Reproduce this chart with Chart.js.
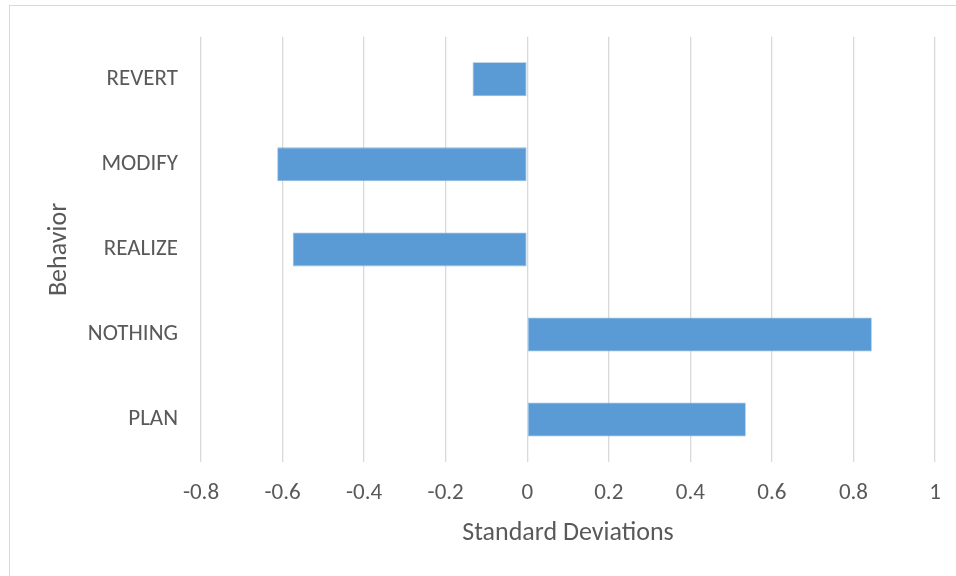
<!DOCTYPE html>
<html>
<head>
<meta charset="utf-8">
<script src="https://cdn.jsdelivr.net/npm/chart.js@4/dist/chart.umd.min.js"></script>
<style>
  html, body { margin: 0; padding: 0; background: #ffffff; }
  #wrap { width: 956px; height: 576px; }
</style>
</head>
<body>
<div id="wrap"><canvas id="chart" width="956" height="576"></canvas></div>
<script>
// Behaviour categories, listed top to bottom
const behaviors = ['REVERT', 'MODIFY', 'REALIZE', 'NOTHING', 'PLAN'];
// Deviation from the mean, in standard deviations
const deviations = [-0.134, -0.613, -0.575, 0.845, 0.536];
// Value axis range and step
const axisMin = -0.8;
const axisMax = 1;
const axisStep = 0.2;

const FONT = 'Calibri, Carlito, Lato, sans-serif';
const TEXT = '#595959';
const GRID = '#d9d9d9';

// Light frame around the chart area
const framePlugin = {
  id: 'frame',
  beforeDraw(chart) {
    const ctx = chart.ctx;
    ctx.save();
    ctx.fillStyle = '#ffffff';
    ctx.fillRect(0, 0, chart.width, chart.height);
    ctx.strokeStyle = GRID;
    ctx.lineWidth = 1;
    ctx.strokeRect(9.5, 5.5, 2000, 2000);
    ctx.restore();
  }
};

new Chart(document.getElementById('chart'), {
  type: 'bar',
  data: {
    labels: behaviors,
    datasets: [{
      data: deviations,
      backgroundColor: '#5b9bd5',
      borderColor: '#8fbbe3',
      borderWidth: 0.8,
      borderSkipped: false,
      barPercentage: 0.4,
      categoryPercentage: 1
    }]
  },
  options: {
    indexAxis: 'y',
    responsive: false,
    animation: false,
    devicePixelRatio: 1,
    layout: { padding: { top: 34, right: 21, bottom: 27, left: 44 } },
    plugins: {
      legend: { display: false },
      tooltip: { enabled: false }
    },
    scales: {
      x: {
        min: axisMin,
        max: axisMax,
        afterFit(scale) {
          scale.height = 87;
          scale.paddingRight = 0;
          scale.paddingLeft = 0;
        },
        afterBuildTicks(scale) {
          const t = [];
          for (let i = 0; i <= Math.round((axisMax - axisMin) / axisStep); i++) {
            t.push({ value: +(axisMin + i * axisStep).toFixed(1) });
          }
          scale.ticks = t;
        },
        grid: { color: GRID, lineWidth: 1.3, drawTicks: false },
        border: { display: false },
        ticks: {
          padding: 17,
          color: TEXT,
          font: { family: FONT, size: 23 },
          callback: (v) => String(+(+v).toFixed(1))
        },
        title: {
          display: true,
          text: 'Standard Deviations',
          color: TEXT,
          padding: 0,
          font: { family: FONT, size: 26 }
        }
      },
      y: {
        afterFit(scale) { scale.width = 157; },
        grid: { display: false, drawTicks: false },
        border: { display: false },
        ticks: {
          padding: 23,
          color: TEXT,
          font: { family: FONT, size: 23 }
        },
        title: {
          display: true,
          text: 'Behavior',
          color: TEXT,
          padding: 0,
          font: { family: FONT, size: 26 }
        }
      }
    }
  },
  plugins: [framePlugin]
});
</script>
</body>
</html>
